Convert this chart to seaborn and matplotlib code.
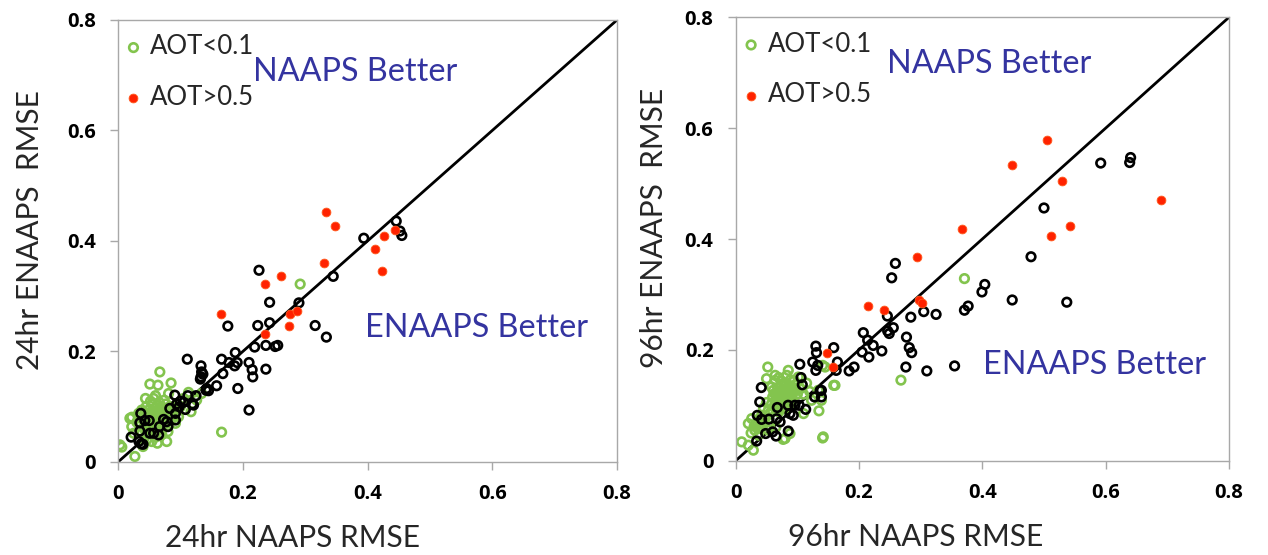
import numpy as np
import pandas as pd
import matplotlib
matplotlib.use("Agg")
import matplotlib.pyplot as plt
import seaborn as sns

# ---- 24 hr forecast RMSE: (NAAPS, ENAAPS) per site ----
low24_x = [0.292, 0.166, 0.067, 0.051, 0.064, 0.085, 0.081, 0.113, 0.117, 0.003, 0.006, 0.027,
           0.078, 0.063, 0.040, 0.044, 0.057, 0.022, 0.019, 0.033, 0.022, 0.025, 0.054, 0.046,
           0.126, 0.134, 0.097,
           0.045, 0.050, 0.055, 0.060, 0.065, 0.070, 0.075, 0.048, 0.053, 0.058, 0.062, 0.068,
           0.072, 0.078, 0.082, 0.040, 0.045, 0.050, 0.056, 0.060, 0.066, 0.071, 0.076, 0.035,
           0.042, 0.050, 0.058, 0.064, 0.070, 0.080, 0.085, 0.088, 0.030, 0.038, 0.052, 0.066,
           0.074, 0.060, 0.045, 0.060, 0.070, 0.080, 0.090, 0.095, 0.100, 0.105, 0.092,
           0.056, 0.063, 0.069, 0.074, 0.079, 0.084, 0.052, 0.059, 0.067, 0.073, 0.047, 0.043,
           0.061, 0.068, 0.077, 0.086, 0.054, 0.071]
low24_y = [0.322, 0.054, 0.163, 0.141, 0.139, 0.143, 0.124, 0.126, 0.091, 0.031, 0.027, 0.010,
           0.037, 0.034, 0.028, 0.115, 0.115, 0.081, 0.079, 0.088, 0.064, 0.052, 0.037, 0.040,
           0.112, 0.124, 0.082,
           0.100, 0.095, 0.105, 0.098, 0.092, 0.100, 0.095, 0.088, 0.082, 0.090, 0.085, 0.080,
           0.088, 0.085, 0.092, 0.078, 0.072, 0.068, 0.075, 0.070, 0.074, 0.068, 0.072, 0.065,
           0.060, 0.058, 0.062, 0.058, 0.060, 0.065, 0.075, 0.082, 0.072, 0.094, 0.110, 0.108,
           0.112, 0.120, 0.050, 0.045, 0.050, 0.055, 0.095, 0.105, 0.100, 0.115, 0.070,
           0.093, 0.102, 0.094, 0.081, 0.078, 0.087, 0.077, 0.079, 0.087, 0.097, 0.083, 0.090,
           0.066, 0.070, 0.105, 0.100, 0.066, 0.083]

mid24_x = [0.446, 0.452, 0.455, 0.394, 0.345, 0.226, 0.243, 0.290, 0.176, 0.224, 0.243, 0.316,
           0.334, 0.219, 0.237, 0.252, 0.256, 0.188, 0.166, 0.111, 0.178, 0.187, 0.191, 0.210,
           0.215, 0.216, 0.237, 0.168, 0.133, 0.134, 0.133, 0.136, 0.132, 0.158, 0.142, 0.145,
           0.192, 0.210, 0.125, 0.119, 0.112, 0.105, 0.091, 0.094, 0.108, 0.083, 0.092, 0.092,
           0.073, 0.080, 0.0665, 0.065, 0.051, 0.057, 0.050, 0.043, 0.035, 0.0365, 0.035, 0.021,
           0.0335, 0.037, 0.040, 0.100, 0.098, 0.078, 0.121, 0.141]
mid24_y = [0.436, 0.418, 0.410, 0.405, 0.336, 0.347, 0.289, 0.288, 0.246, 0.247, 0.252, 0.247,
           0.226, 0.208, 0.211, 0.209, 0.211, 0.198, 0.186, 0.186, 0.180, 0.174, 0.180, 0.180,
           0.167, 0.154, 0.168, 0.160, 0.174, 0.163, 0.154, 0.159, 0.150, 0.138, 0.133, 0.129,
           0.133, 0.094, 0.120, 0.105, 0.120, 0.108, 0.121, 0.105, 0.095, 0.097, 0.076, 0.088,
           0.077, 0.064, 0.064, 0.049, 0.052, 0.052, 0.075, 0.075, 0.071, 0.088, 0.056, 0.045,
           0.037, 0.033, 0.032, 0.110, 0.100, 0.073, 0.103, 0.130]

high24_x = [0.333, 0.348, 0.330, 0.261, 0.235, 0.165, 0.276, 0.287, 0.274, 0.236, 0.427, 0.444,
            0.412, 0.423]
high24_y = [0.452, 0.427, 0.360, 0.336, 0.323, 0.267, 0.268, 0.273, 0.247, 0.232, 0.409, 0.420,
            0.385, 0.346]

# ---- 96 hr forecast RMSE ----
low96_x = [0.371, 0.268, 0.159, 0.141, 0.135, 0.139, 0.141, 0.052, 0.0097, 0.0286, 0.077, 0.145,
           0.142, 0.161, 0.134, 0.110, 0.123, 0.0853, 0.1016, 0.064, 0.050, 0.064, 0.083, 0.088,
           0.0746, 0.061, 0.069, 0.080, 0.091, 0.096, 0.0745, 0.0583, 0.053, 0.042, 0.026, 0.0205,
           0.031, 0.0205, 0.037, 0.053, 0.080, 0.088,
           0.070, 0.080, 0.085, 0.078, 0.090, 0.065, 0.075, 0.085, 0.100, 0.105, 0.060, 0.050,
           0.045, 0.060, 0.070, 0.080, 0.090, 0.035, 0.045, 0.055, 0.040, 0.030, 0.065, 0.120,
           0.115, 0.110, 0.070, 0.095,
           0.072, 0.077, 0.083, 0.088, 0.094, 0.068, 0.074, 0.082, 0.087, 0.063, 0.058, 0.066,
           0.092, 0.098, 0.079, 0.071, 0.048, 0.055, 0.037, 0.043, 0.025, 0.033]
low96_y = [0.3286, 0.1454, 0.136, 0.041, 0.090, 0.109, 0.172, 0.169, 0.034, 0.019, 0.0385, 0.169,
           0.043, 0.136, 0.127, 0.085, 0.109, 0.163, 0.151, 0.145, 0.148, 0.154, 0.154, 0.145,
           0.136, 0.127, 0.115, 0.109, 0.118, 0.130, 0.097, 0.103, 0.091, 0.082, 0.076, 0.067,
           0.055, 0.028, 0.046, 0.055, 0.040, 0.049,
           0.125, 0.120, 0.130, 0.140, 0.135, 0.110, 0.105, 0.110, 0.120, 0.130, 0.115, 0.105,
           0.095, 0.090, 0.088, 0.095, 0.105, 0.070, 0.065, 0.062, 0.058, 0.062, 0.060, 0.125,
           0.140, 0.120, 0.150, 0.145,
           0.118, 0.128, 0.122, 0.126, 0.124, 0.132, 0.144, 0.138, 0.115, 0.121, 0.133, 0.100,
           0.112, 0.138, 0.102, 0.093, 0.078, 0.084, 0.060, 0.072, 0.050, 0.065]

mid96_x = [0.6405, 0.639, 0.592, 0.500, 0.479, 0.404, 0.3994, 0.377, 0.371, 0.4485, 0.537, 0.259,
           0.253, 0.305, 0.325, 0.284, 0.246, 0.2556, 0.2465, 0.249, 0.207, 0.214, 0.223, 0.205,
           0.216, 0.237, 0.277, 0.2815, 0.2854, 0.276, 0.310, 0.355, 0.192, 0.184, 0.159, 0.165,
           0.163, 0.130, 0.131, 0.133, 0.130, 0.125, 0.104, 0.106, 0.108, 0.137, 0.128, 0.0415,
           0.039, 0.0675, 0.085, 0.088, 0.0934, 0.103, 0.1135, 0.035, 0.042, 0.054, 0.0665, 0.072,
           0.0486, 0.060, 0.0654, 0.0853, 0.034, 0.139, 0.139, 0.096]
mid96_y = [0.547, 0.538, 0.537, 0.456, 0.368, 0.318, 0.3045, 0.279, 0.2715, 0.290, 0.286, 0.356,
           0.330, 0.269, 0.264, 0.259, 0.261, 0.240, 0.234, 0.2295, 0.231, 0.2175, 0.208, 0.196,
           0.187, 0.198, 0.223, 0.204, 0.195, 0.169, 0.162, 0.171, 0.169, 0.162, 0.204, 0.178,
           0.163, 0.2067, 0.195, 0.172, 0.163, 0.178, 0.174, 0.150, 0.137, 0.127, 0.115, 0.132,
           0.106, 0.096, 0.100, 0.085, 0.082, 0.100, 0.0926, 0.0818, 0.0746, 0.075, 0.0757, 0.070,
           0.049, 0.052, 0.0445, 0.0535, 0.0355, 0.127, 0.115, 0.100]

high96_x = [0.505, 0.4475, 0.530, 0.689, 0.367, 0.542, 0.511, 0.2935, 0.2145, 0.2405, 0.297,
            0.3026, 0.148, 0.158]
high96_y = [0.579, 0.534, 0.504, 0.471, 0.418, 0.423, 0.405, 0.368, 0.279, 0.2715, 0.290,
            0.285, 0.1946, 0.169]

ticks = [0, 0.2, 0.4, 0.6, 0.8]
tick_labels = ["0", "0.2", "0.4", "0.6", "0.8"]

GREEN = "#83C44E"
RED = "#FF2200"
BLUE_TXT = "#3434A0"
FRAME_GRAY = "#A8A8A8"

sns.set_style("white")
plt.rcParams["font.family"] = ["Lato", "DejaVu Sans"]

fig = plt.figure(figsize=(12.68, 5.55), dpi=100)
ax_l = fig.add_axes([0.0931, 0.1676, 0.3935, 0.7964])
ax_r = fig.add_axes([0.5802, 0.1699, 0.3890, 0.7989])

panels = [
    (ax_l, "24hr", (low24_x, low24_y), (mid24_x, mid24_y), (high24_x, high24_y),
     (0.2165, 0.706), (0.396, 0.2425), (0.350, -0.172), (-0.176, 0.525)),
    (ax_r, "96hr", (low96_x, low96_y), (mid96_x, mid96_y), (high96_x, high96_y),
     (0.245, 0.7166), (0.401, 0.172), (0.364, -0.172), (-0.166, 0.525)),
]

for ax, lead, low, mid, high, naaps_pos, enaaps_pos, xl_pos, yl_pos in panels:
    df_low = pd.DataFrame({"naaps": low[0], "enaaps": low[1]})
    df_mid = pd.DataFrame({"naaps": mid[0], "enaaps": mid[1]})
    df_high = pd.DataFrame({"naaps": high[0], "enaaps": high[1]})

    # 1:1 reference line
    ax.plot([0, 0.8], [0, 0.8], color="black", lw=2.0, zorder=1)

    sns.scatterplot(data=df_low, x="naaps", y="enaaps", ax=ax, marker="o", s=38,
                    facecolors="none", edgecolor=GREEN, linewidth=1.9,
                    label="AOT<0.1", zorder=2)
    sns.scatterplot(data=df_mid, x="naaps", y="enaaps", ax=ax, marker="o", s=38,
                    facecolors="none", edgecolor="black", linewidth=1.9,
                    label="_nolegend_", zorder=3)
    sns.scatterplot(data=df_high, x="naaps", y="enaaps", ax=ax, marker="o", s=40,
                    color=RED, edgecolor="#FF5A1E", linewidth=0.6,
                    label="AOT>0.5", zorder=4)

    ax.set_xlim(0, 0.8)
    ax.set_ylim(0, 0.8)
    ax.set_xticks(ticks)
    ax.set_yticks(ticks)
    ax.set_xticklabels(tick_labels, fontweight="bold", family=["Open Sans", "DejaVu Sans"])
    ax.set_yticklabels(tick_labels, fontweight="bold", family=["Open Sans", "DejaVu Sans"])
    ax.tick_params(axis="both", direction="out", length=6, width=1, color=FRAME_GRAY,
                   labelsize=14.5, labelcolor="black", pad=10,
                   bottom=True, left=True)
    for sp in ax.spines.values():
        sp.set_visible(True)
        sp.set_color(FRAME_GRAY)
        sp.set_linewidth(1)

    ax.set_xlabel(f"{lead} NAAPS RMSE", fontsize=21.5, va="center")
    ax.set_ylabel(f"{lead} ENAAPS  RMSE", fontsize=21.5, va="center")
    ax.xaxis.set_label_coords(*xl_pos)
    ax.yaxis.set_label_coords(*yl_pos)

    ax.text(naaps_pos[0], naaps_pos[1], "NAAPS Better", color=BLUE_TXT, fontsize=23.3,
            ha="left", va="center")
    ax.text(enaaps_pos[0], enaaps_pos[1], "ENAAPS Better", color=BLUE_TXT, fontsize=23.3,
            ha="left", va="center")

    ax.legend(loc="upper left", bbox_to_anchor=(0, 0.985), borderaxespad=0, borderpad=0.3,
              frameon=False, fontsize=18.5, handlelength=0.6, handletextpad=0.34,
              labelspacing=1.0, markerscale=1.0)

fig.savefig("out.png", dpi=100)
